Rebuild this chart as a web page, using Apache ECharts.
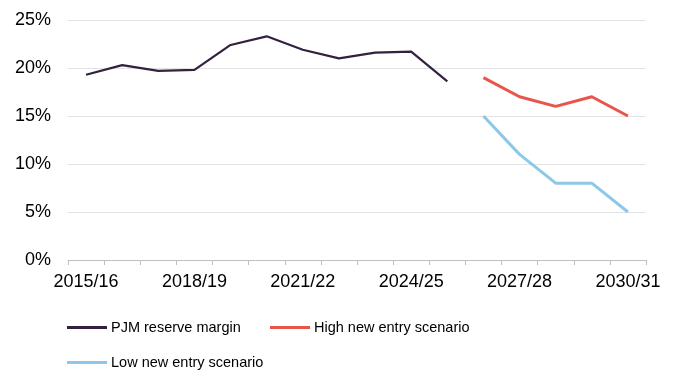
<!DOCTYPE html>
<html>
<head>
<meta charset="utf-8">
<script src="https://cdn.jsdelivr.net/npm/echarts@6/dist/echarts.min.js"></script>
<style>
  html, body { margin: 0; padding: 0; background: #fff; }
  #chart { width: 677px; height: 374px; }
</style>
</head>
<body>
<div id="chart"></div>
<script>
// Delivery years
const years = ['2015/16','2016/17','2017/18','2018/19','2019/20','2020/21','2021/22','2022/23',
               '2023/24','2024/25','2025/26','2026/27','2027/28','2028/29','2029/30','2030/31'];

// Reserve margin, % (null where a series has no value)
const pjmMargin = [19.3, 20.3, 19.7, 19.8, 22.4, 23.3, 21.9, 21.0, 21.6, 21.7, 18.6,
                   null, null, null, null, null];
const highEntry = [null, null, null, null, null, null, null, null, null, null, null,
                   19, 17, 16, 17, 15];
const lowEntry  = [null, null, null, null, null, null, null, null, null, null, null,
                   15, 11, 8, 8, 5];

const yTicks = [0, 5, 10, 15, 20, 25];

const font = 'Liberation Sans, Arial, sans-serif';
const colors = { pjm: '#33213f', high: '#e8554a', low: '#8dc8e8' };

const chart = echarts.init(document.getElementById('chart'));

function legendAt(name, left, top) {
  return {
    data: [name], left: left, top: top, orient: 'horizontal',
    icon: 'rect', itemWidth: 40, itemHeight: 3, itemGap: 0,
    textStyle: { fontFamily: font, fontSize: 14.5, color: '#000', padding: [0, 0, 0, -1] },
    padding: 0
  };
}

chart.setOption({
  animation: false,
  grid: { left: 68, right: 31, top: 20, bottom: 114, containLabel: false },
  legend: [
    legendAt('PJM reserve margin', 67, 320),
    legendAt('High new entry scenario', 270, 320),
    legendAt('Low new entry scenario', 67, 355)
  ],
  xAxis: {
    type: 'category', data: years, boundaryGap: true,
    axisLine: { lineStyle: { color: '#bfbfbf', width: 1 } },
    axisTick: { show: true, interval: 0, length: 5, lineStyle: { color: '#bfbfbf' } },
    axisLabel: { interval: 2, margin: 13, fontFamily: font, fontSize: 18, color: '#000' },
    splitLine: { show: false }
  },
  yAxis: {
    type: 'value', min: yTicks[0], max: yTicks[yTicks.length - 1], interval: 5,
    axisLine: { show: false }, axisTick: { show: false },
    axisLabel: { margin: 17, fontFamily: font, fontSize: 18, color: '#000',
                 padding: [4, 0, 0, 0], formatter: v => v + '%' },
    splitLine: { lineStyle: { color: '#e3e3e3', width: 1 } }
  },
  series: [
    { name: 'PJM reserve margin', type: 'line', data: pjmMargin, symbol: 'none',
      lineStyle: { color: colors.pjm, width: 2.2 }, itemStyle: { color: colors.pjm } },
    { name: 'High new entry scenario', type: 'line', data: highEntry, symbol: 'none',
      lineStyle: { color: colors.high, width: 3 }, itemStyle: { color: colors.high } },
    { name: 'Low new entry scenario', type: 'line', data: lowEntry, symbol: 'none',
      lineStyle: { color: colors.low, width: 3 }, itemStyle: { color: colors.low } }
  ]
});
</script>
</body>
</html>
